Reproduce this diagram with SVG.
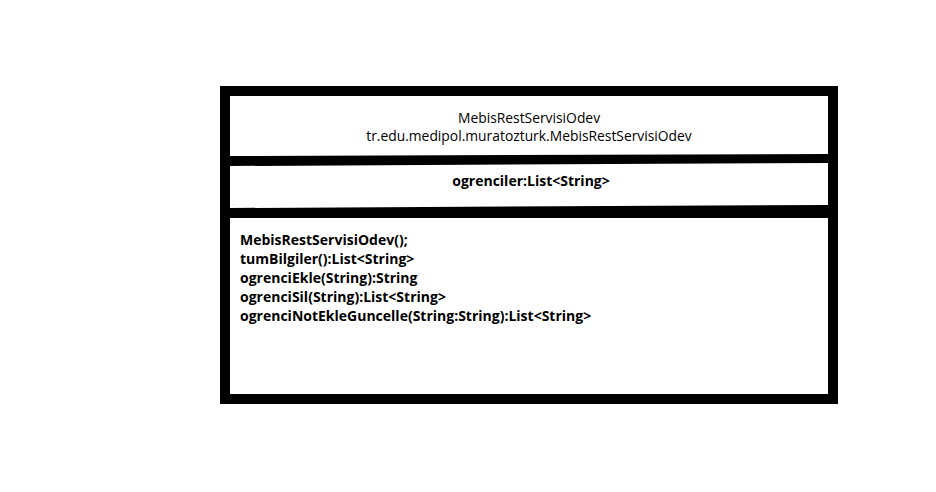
<svg xmlns="http://www.w3.org/2000/svg" width="936" height="492" viewBox="0 0 936 492">
<style>
.t{font-family:"Open Sans","Noto Sans",sans-serif;font-size:14px;fill:#000}
.r{font-size:13.85px}
.b{font-weight:bold}
.bar{fill:#000}
</style>
<rect width="936" height="492" fill="#fff"/>
<g id="class-MebisRestServisiOdev">
<rect x="225" y="91" width="608" height="308" fill="#fff" stroke="#000" stroke-width="10"/>
<polygon class="bar" points="230,156 828,154 828,163 230,166"/>
<polygon class="bar" points="230,208 828,205 828,213 838,213 838,218 828,218 230,218"/>
<text class="t r" x="529" y="123" text-anchor="middle">MebisRestServisiOdev</text>
<text class="t r" x="529" y="141" text-anchor="middle">tr.edu.medipol.muratozturk.MebisRestServisiOdev</text>
<text class="t b" x="531" y="186" text-anchor="middle">ogrenciler:List&lt;String&gt;</text>
<text class="t b" x="240" y="245">MebisRestServisiOdev();</text>
<text class="t b" x="240" y="264">tumBilgiler():List&lt;String&gt;</text>
<text class="t b" x="240" y="283">ogrenciEkle(String):String</text>
<text class="t b" x="240" y="302">ogrenciSil(String):List&lt;String&gt;</text>
<text class="t b" x="240" y="321">ogrenciNotEkleGuncelle(String:String):List&lt;String&gt;</text>
</g>
<g id="connectors"/>
</svg>
